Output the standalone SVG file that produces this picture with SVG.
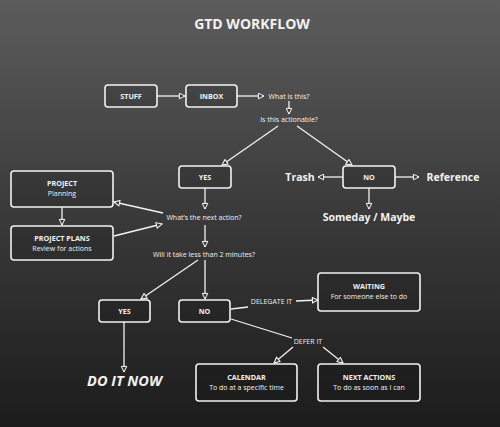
<svg xmlns="http://www.w3.org/2000/svg" width="500" height="427" viewBox="0 0 500 427">
<defs>
<linearGradient id="bg" x1="0" y1="0" x2="0" y2="1">
<stop offset="0" stop-color="#5c5c5c"/>
<stop offset="0.5" stop-color="#3a3a3a"/>
<stop offset="1" stop-color="#1c1c1c"/>
</linearGradient>
<marker id="ah" viewBox="0 0 10 10" refX="9" refY="5" markerWidth="8" markerHeight="7" markerUnits="userSpaceOnUse" orient="auto">
<path d="M1,1 L9,5 L1,9 Z" fill="#3a3a3a" stroke="#fff" stroke-width="1.4"/>
</marker>
<style>
.box{fill:rgba(0,0,0,0.12);stroke:#f2f2f2;stroke-width:1.6}
.ln{stroke:#f2f2f2;stroke-width:1.3;fill:none}
.t{font-family:"Open Sans","Liberation Sans",sans-serif;fill:#f2f2f2;text-anchor:middle}
.s{font-size:7px}
.b{font-size:7.2px;font-weight:bold}
.big{font-size:10.5px;font-weight:bold}
</style>
</defs>
<rect width="500" height="427" fill="url(#bg)"/>
<text class="t" x="252" y="29" style="font-size:14px;font-weight:bold">GTD WORKFLOW</text>

<g id="connectors">
<line class="ln" x1="157" y1="96" x2="185" y2="96" marker-end="url(#ah)"/>
<line class="ln" x1="237" y1="96" x2="264" y2="96" marker-end="url(#ah)"/>
<line class="ln" x1="289" y1="101" x2="289" y2="114" marker-end="url(#ah)"/>
<line class="ln" x1="278" y1="126" x2="222" y2="165" marker-end="url(#ah)"/>
<line class="ln" x1="297" y1="126" x2="352" y2="165" marker-end="url(#ah)"/>
<line class="ln" x1="343" y1="177" x2="318" y2="177" marker-end="url(#ah)"/>
<line class="ln" x1="395" y1="177" x2="419" y2="177" marker-end="url(#ah)"/>
<line class="ln" x1="369" y1="188" x2="369" y2="209" marker-end="url(#ah)"/>
<line class="ln" x1="205" y1="188" x2="205" y2="209" marker-end="url(#ah)"/>
<line class="ln" x1="163" y1="213" x2="114" y2="202" marker-end="url(#ah)"/>
<line class="ln" x1="114" y1="236" x2="162" y2="224" marker-end="url(#ah)"/>
<line class="ln" x1="62" y1="207" x2="62" y2="225" marker-end="url(#ah)"/>
<line class="ln" x1="205" y1="225" x2="205" y2="247" marker-end="url(#ah)"/>
<line class="ln" x1="198" y1="260" x2="141" y2="299" marker-end="url(#ah)"/>
<line class="ln" x1="205" y1="260" x2="205" y2="299" marker-end="url(#ah)"/>
<line class="ln" x1="124" y1="322" x2="124" y2="372" marker-end="url(#ah)"/>
<line class="ln" x1="231" y1="309" x2="248" y2="307"/>
<line class="ln" x1="296" y1="301" x2="318" y2="300" marker-end="url(#ah)"/>
<line class="ln" x1="231" y1="319" x2="292" y2="338"/>
<line class="ln" x1="293" y1="347" x2="274" y2="363" marker-end="url(#ah)"/>
<line class="ln" x1="323" y1="347" x2="343" y2="363" marker-end="url(#ah)"/>
</g>

<g id="stuff"><rect class="box" x="105" y="85" width="52" height="22" rx="3"/><text class="t b" x="131" y="99">STUFF</text></g>
<g id="inbox"><rect class="box" x="186" y="85" width="51" height="22" rx="3"/><text class="t b" x="211.5" y="99">INBOX</text></g>
<g id="what"><text class="t s" x="289" y="98.5">What is this?</text></g>
<g id="actionable"><text class="t s" x="289" y="122">Is this actionable?</text></g>
<g id="yes1"><rect class="box" x="179" y="166" width="52" height="22" rx="3"/><text class="t b" x="205" y="180">YES</text></g>
<g id="no1"><rect class="box" x="343" y="166" width="52" height="22" rx="3"/><text class="t b" x="369" y="180">NO</text></g>
<g id="trash"><text class="t big" x="300" y="181">Trash</text></g>
<g id="reference"><text class="t big" x="453" y="181">Reference</text></g>
<g id="someday"><text class="t big" x="369" y="221">Someday / Maybe</text></g>
<g id="nextaction"><text class="t s" x="204" y="220">What’s the next action?</text></g>
<g id="project"><rect class="box" x="11" y="171" width="102" height="36" rx="3"/><text class="t b" x="62" y="186">PROJECT</text><text class="t s" x="62" y="196">Planning</text></g>
<g id="plans"><rect class="box" x="11" y="226" width="102" height="34" rx="3"/><text class="t b" x="62" y="241">PROJECT PLANS</text><text class="t s" x="62" y="251">Review for actions</text></g>
<g id="twomin"><text class="t s" x="204" y="257">Will it take less than 2 minutes?</text></g>
<g id="yes2"><rect class="box" x="99" y="300" width="51" height="22" rx="3"/><text class="t b" x="124.5" y="314">YES</text></g>
<g id="no2"><rect class="box" x="179" y="300" width="51" height="22" rx="3"/><text class="t b" x="204.5" y="314">NO</text></g>
<g id="delegate"><text class="t s" x="271.5" y="304">DELEGATE IT</text></g>
<g id="waiting"><rect class="box" x="318" y="273" width="102" height="38" rx="3"/><text class="t b" x="369" y="289">WAITING</text><text class="t s" x="369" y="299">For someone else to do</text></g>
<g id="defer"><text class="t s" x="308" y="344">DEFER IT</text></g>
<g id="calendar"><rect class="box" x="196" y="364" width="101" height="37" rx="3"/><text class="t b" x="246.5" y="380">CALENDAR</text><text class="t s" x="246.5" y="390">To do at a specific time</text></g>
<g id="nextactions"><rect class="box" x="318" y="364" width="102" height="37" rx="3"/><text class="t b" x="369" y="380">NEXT ACTIONS</text><text class="t s" x="369" y="390">To do as soon as I can</text></g>
<g id="doitnow"><text class="t" x="124.5" y="386" style="font-size:14.5px;font-weight:bold;font-style:italic">DO IT NOW</text></g>
</svg>
